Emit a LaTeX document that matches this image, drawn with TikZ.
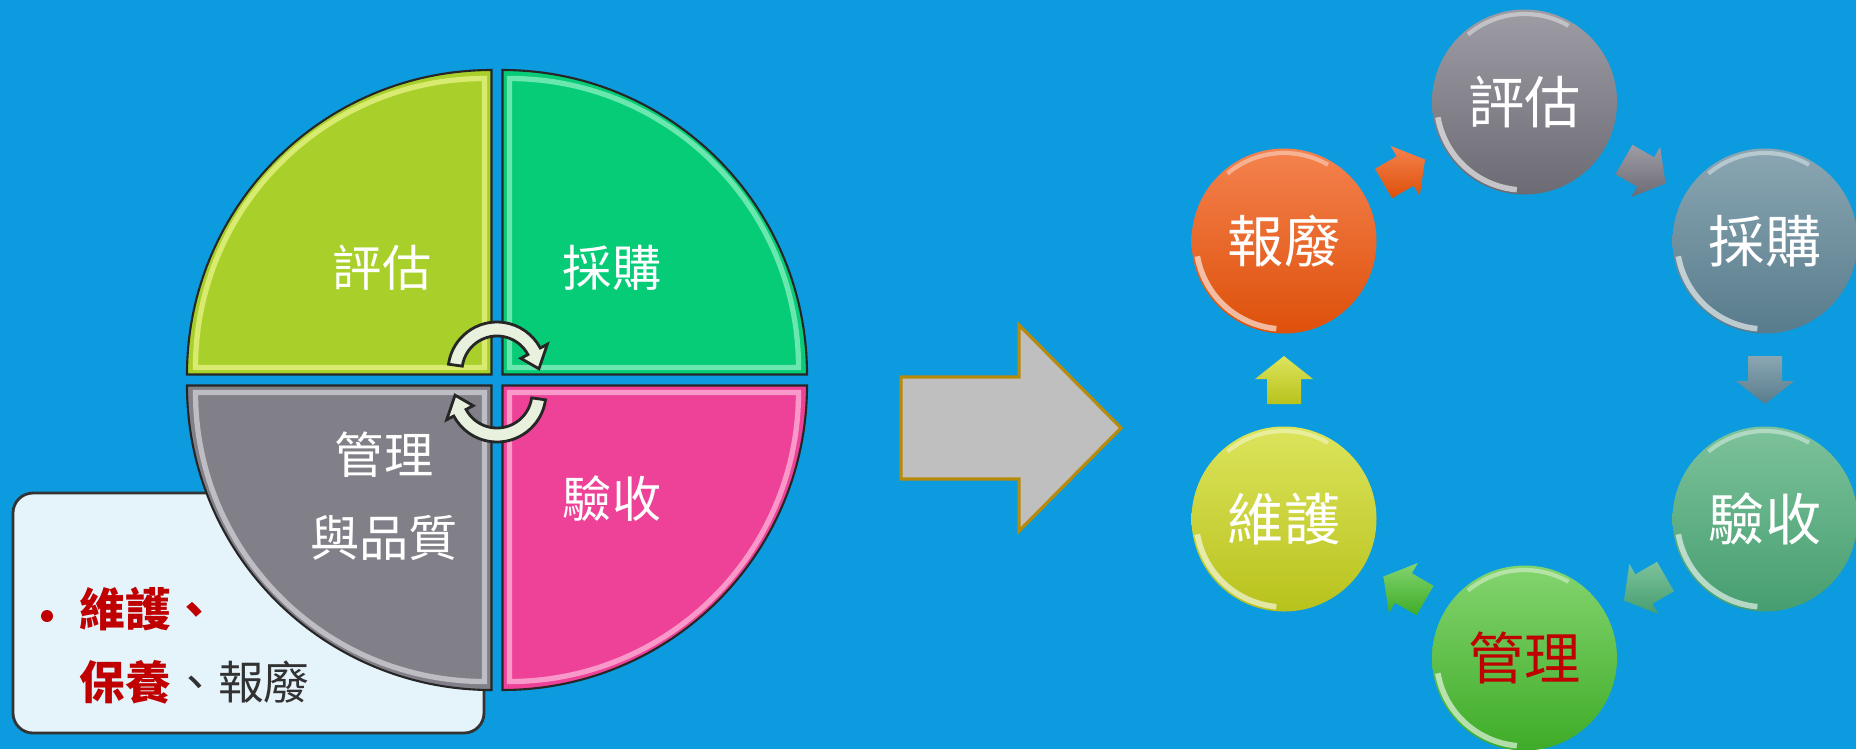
\documentclass[tikz,border=0pt]{standalone}
\usepackage{fontspec}
\usetikzlibrary{calc,positioning}
\newfontfamily\cjk{Noto Sans CJK TC}

\definecolor{bgblue}{RGB}{11,155,222}
\definecolor{evalq}{RGB}{169,208,42}
\definecolor{buyq}{RGB}{6,204,120}
\definecolor{mgmtq}{RGB}{129,128,136}
\definecolor{checkq}{RGB}{238,65,152}
\definecolor{evalhi}{RGB}{228,242,130}
\definecolor{buyhi}{RGB}{130,238,188}
\definecolor{mgmthi}{RGB}{205,205,210}
\definecolor{checkhi}{RGB}{252,175,215}
\definecolor{notefill}{RGB}{229,243,251}
\definecolor{turnfill}{RGB}{232,240,222}
\definecolor{bigarrow}{RGB}{191,191,191}
\definecolor{bigrim}{RGB}{184,138,10}
\definecolor{darkred}{RGB}{192,0,0}
\definecolor{textgray}{RGB}{50,50,50}
% circle colours, top / bottom
\definecolor{evalT}{RGB}{158,157,165}   \definecolor{evalB}{RGB}{108,107,115}
\definecolor{buyT}{RGB}{138,166,178}    \definecolor{buyB}{RGB}{88,124,140}
\definecolor{checkT}{RGB}{125,194,155}  \definecolor{checkB}{RGB}{70,158,112}
\definecolor{mgmtT}{RGB}{132,212,110}   \definecolor{mgmtB}{RGB}{62,172,40}
\definecolor{maintT}{RGB}{220,228,92}   \definecolor{maintB}{RGB}{184,194,28}
\definecolor{scrapT}{RGB}{244,130,78}   \definecolor{scrapB}{RGB}{222,80,10}

\tikzset{
  quad/.style={draw=black!85, line width=0.6pt},
  bevel/.style={line width=1.5pt, opacity=0.8},
  pietext/.style={text=white, font=\cjk\fontsize{14}{23.5}\selectfont, align=center},
  turn/.style={draw=black!85, line width=0.8pt, fill=turnfill},
  notetext/.style={anchor=west, inner sep=0pt, font=\cjk\fontsize{13}{16}\selectfont},
  stage/.style={circle, minimum size=1.85cm, inner sep=0pt, text=white,
    font=\cjk\fontsize{16}{20}\selectfont,
    path picture={
      \draw[white, line width=1.6pt, opacity=0.6] ($(path picture bounding box.center)+(190:0.88)$)
        arc[start angle=190, end angle=265, radius=0.88];
      \draw[white, line width=1.2pt, opacity=0.4] ($(path picture bounding box.center)+(60:0.88)$)
        arc[start angle=60, end angle=130, radius=0.88];}},
}

% block arrow half way between two stages, pointing from #1 to #2
\newcommand{\stagearrow}[4]{%
  \path[top color=#3, bottom color=#4] let \p1=($(#2)-(#1)$), \n1={atan2(\y1,\x1)} in
    [shift={($(#1)!0.5!(#2)$)}, rotate=\n1]
    (-0.24,-0.17) -- (0.01,-0.17) -- (0.01,-0.29) -- (0.24,0) -- (0.01,0.29) -- (0.01,0.17) -- (-0.24,0.17) -- cycle;}

\begin{document}
\begin{tikzpicture}
\fill[bgblue] (0,0) rectangle (18.56,7.49);
\useasboundingbox (0,0) rectangle (18.56,7.49);

% left: the quartered disc
\node[draw=black!80, line width=0.8pt, fill=notefill, rounded corners=0.2cm,
      minimum width=4.71cm, minimum height=2.40cm] (note) at (2.485,1.36) {};

\coordinate (pc) at (4.97,3.69);
\filldraw[quad, fill=evalq] ([shift={(-0.055,0.055)}]pc) -- ++(-3.045,0) arc[start angle=180, end angle=90, radius=3.045] -- cycle;
\filldraw[quad, fill=buyq] ([shift={(0.055,0.055)}]pc) -- ++(3.045,0) arc[start angle=0, end angle=90, radius=3.045] -- cycle;
\filldraw[quad, fill=mgmtq] ([shift={(-0.055,-0.055)}]pc) -- ++(-3.045,0) arc[start angle=180, end angle=270, radius=3.045] -- cycle;
\filldraw[quad, fill=checkq] ([shift={(0.055,-0.055)}]pc) -- ++(3.045,0) arc[start angle=0, end angle=-90, radius=3.045] -- cycle;

\draw[bevel, evalhi] ([shift={(-0.125,0.125)}]pc) -- ++(-2.89,0) arc[start angle=180, end angle=90, radius=2.89] -- cycle;
\draw[bevel, buyhi] ([shift={(0.125,0.125)}]pc) -- ++(2.89,0) arc[start angle=0, end angle=90, radius=2.89] -- cycle;
\draw[bevel, mgmthi] ([shift={(-0.125,-0.125)}]pc) -- ++(-2.89,0) arc[start angle=180, end angle=270, radius=2.89] -- cycle;
\draw[bevel, checkhi] ([shift={(0.125,-0.125)}]pc) -- ++(2.89,0) arc[start angle=0, end angle=-90, radius=2.89] -- cycle;

\node[pietext] (q-eval) at (3.82,4.81) {評估};
\node[pietext] (q-buy) at (6.12,4.81) {採購};
\node[pietext] (q-mgmt) at (3.84,2.53) {管理\\與品質};
\node[pietext] (q-check) at (6.12,2.50) {驗收};

% turning arrows in the middle
\coordinate (tu) at (4.97,3.78);
\coordinate (tl) at (4.97,3.56);
\filldraw[turn] ([shift={(172:0.49)}]tu) arc[start angle=172, end angle=28, radius=0.49]
  -- ([shift={(28:0.57)}]tu) -- ([shift={(3:0.42)}]tu) -- ([shift={(28:0.27)}]tu)
  -- ([shift={(28:0.35)}]tu) arc[start angle=28, end angle=172, radius=0.35] -- cycle;
\filldraw[turn] ([shift={(-8:0.49)}]tl) arc[start angle=-8, end angle=-152, radius=0.49]
  -- ([shift={(-152:0.57)}]tl) -- ([shift={(-177:0.42)}]tl) -- ([shift={(-152:0.27)}]tl)
  -- ([shift={(-152:0.35)}]tl) arc[start angle=-152, end angle=-8, radius=0.35] -- cycle;

% text in the box
\fill[darkred] (0.47,1.33) circle (0.06);
\node[notetext, text=darkred] (n1) at (0.79,1.40) {\bfseries 維護、};
\node[notetext, text=darkred] (n2) at (0.79,0.67) {\bfseries 保養};
\node[notetext, text=textgray, right=0pt of n2] (n3) {、報廢};

% big arrow
\filldraw[fill=bigarrow, draw=bigrim, line width=0.9pt] (9.01,3.72) -- (10.19,3.72) -- (10.19,4.24)
  -- (11.21,3.21) -- (10.19,2.18) -- (10.19,2.70) -- (9.01,2.70) -- cycle;

% right: the cycle
\node[stage, top color=evalT, bottom color=evalB] (eval) at (15.245,6.47) {評估};
\node[stage, top color=buyT, bottom color=buyB] (buy) at (17.65,5.08) {採購};
\node[stage, top color=checkT, bottom color=checkB] (check) at (17.65,2.30) {驗收};
\node[stage, top color=mgmtT, bottom color=mgmtB, text=darkred] (mgmt) at (15.245,0.91) {管理};
\node[stage, top color=maintT, bottom color=maintB] (maint) at (12.84,2.30) {維護};
\node[stage, top color=scrapT, bottom color=scrapB] (scrap) at (12.84,5.08) {報廢};

\stagearrow{scrap}{eval}{scrapT}{scrapB}
\stagearrow{eval}{buy}{evalT}{evalB}
\stagearrow{buy}{check}{buyT}{buyB}
\stagearrow{check}{mgmt}{checkT}{checkB}
\stagearrow{mgmt}{maint}{mgmtT}{mgmtB}
\stagearrow{maint}{scrap}{maintT}{maintB}
\end{tikzpicture}
\end{document}
